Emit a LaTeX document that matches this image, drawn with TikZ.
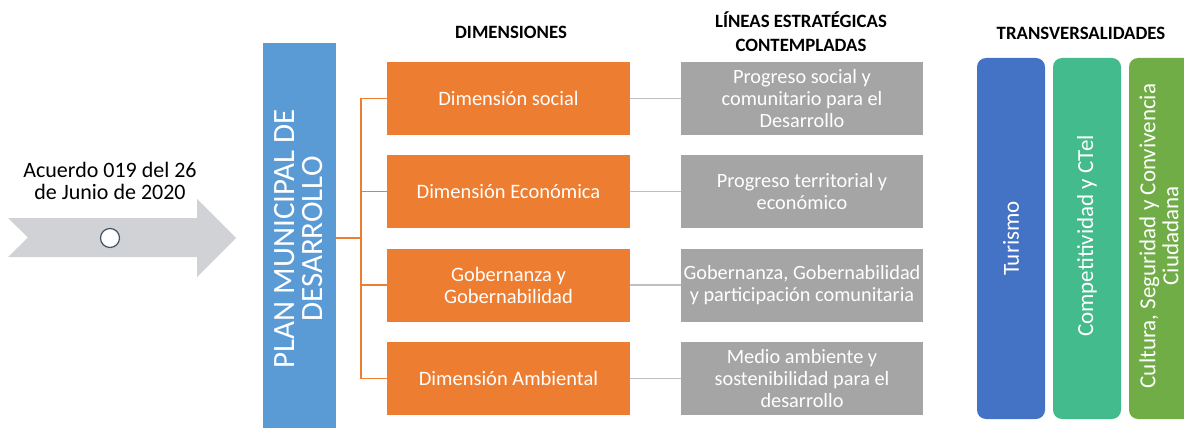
\documentclass[tikz,border=0pt]{standalone}
\usepackage{fontspec}
\setmainfont{Carlito}
\definecolor{orangeC}{HTML}{ED7D31}
\definecolor{grayC}{HTML}{A5A5A5}
\definecolor{grayL}{HTML}{BFBFBF}
\definecolor{blueC}{HTML}{5B9BD5}
\definecolor{arrowC}{HTML}{D1D2D5}
\definecolor{circC}{HTML}{44546A}
\definecolor{turC}{HTML}{4472C4}
\definecolor{compC}{HTML}{43BB8C}
\definecolor{culC}{HTML}{70AD47}
\tikzset{
  dimbox/.style={fill=orangeC, text=white, minimum width=243pt, minimum height=73pt, inner sep=0pt, align=center, font=\fontsize{20.5}{22}\selectfont},
  linbox/.style={fill=grayC, text=white, minimum width=242pt, minimum height=73pt, inner sep=0pt, align=center, font=\fontsize{20.3}{22}\selectfont},
  header/.style={font=\fontsize{18.8}{24}\selectfont\bfseries, align=center},
  orline/.style={draw=orangeC, line width=1.5pt},
  grline/.style={draw=grayL, line width=1.5pt},
  transbox/.style={rounded corners=9pt, minimum width=68pt, minimum height=361pt, inner sep=0pt},
  translabel/.style={text=white, rotate=90, align=center, font=\fontsize{23}{23}\selectfont}
}
\begin{document}
\begin{tikzpicture}[x=1pt,y=-1pt]
\useasboundingbox (0,0) rectangle (1184,428);
% timeline arrow
\fill[arrowC] (8,218) -- (197,218) -- (197,199) -- (236,238) -- (197,277) -- (197,257) -- (8,257) -- (28,237.5) -- cycle;
\node[circle, draw=circC, fill=white, line width=1.2pt, minimum size=19pt, inner sep=0pt] (circ) at (110,238) {};
\node[align=center, font=\fontsize{22}{22.5}\selectfont] (acuerdo) at (110,181) {Acuerdo 019 del 26\\de Junio de 2020};
% plan box
\node[fill=blueC, minimum width=73pt, minimum height=385pt, inner sep=0pt] (plan) at (299.5,235.5) {};
\node[text=white, rotate=90, align=center, font=\fontsize{31}{28}\selectfont] (plantext) at (299,239) {PLAN MUNICIPAL DE\\DESARROLLO};
% headers
\node[header] (h1) at (511,32) {DIMENSIONES};
\node[header] (h2) at (801,32) {LÍNEAS ESTRATÉGICAS\\CONTEMPLADAS};
\node[header] (h3) at (1081,33) {TRANSVERSALIDADES};
% dimension boxes
\node[dimbox] (d1) at (508.5,98.5) {Dimensión social};
\node[dimbox] (d2) at (508.5,191.5) {Dimensión Económica};
\node[dimbox] (d3) at (508.5,285) {Gobernanza y\\Gobernabilidad};
\node[dimbox] (d4) at (508.5,378.5) {Dimensión Ambiental};
% line boxes
\node[linbox] (l1) at (802,98.5) {Progreso social y\\comunitario para el\\Desarrollo};
\node[linbox] (l2) at (802,191.5) {Progreso territorial y\\económico};
\node[linbox] (l3) at (802,285) {Gobernanza, Gobernabilidad\\y participación comunitaria};
\node[linbox] (l4) at (802,378.5) {Medio ambiente y\\sostenibilidad para el\\desarrollo};
% orange connectors
\coordinate (j) at (361,238);
\draw[orline] (plan.east |- j) -- (j);
\draw[orline] (j |- d1.west) -- (j |- d4.west);
\foreach \k in {1,2,3,4} {
  \draw[orline] (j |- d\k.west) -- (d\k.west);
  \draw[grline] (d\k.east) -- (l\k.west);
}
% transversal boxes
\node[transbox, fill=turC] (t1) at (1011,238.5) {};
\node[transbox, fill=compC] (t2) at (1087,238.5) {};
\node[transbox, fill=culC] (t3) at (1163,238.5) {};
\node[translabel] (t1l) at (1011,238.5) {Turismo};
\node[translabel] (t2l) at (1087,236) {Competitividad y CTel};
\node[translabel] (t3l) at (1159,236) {Cultura, Seguridad y Convivencia\\Ciudadana};
\end{tikzpicture}
\end{document}
